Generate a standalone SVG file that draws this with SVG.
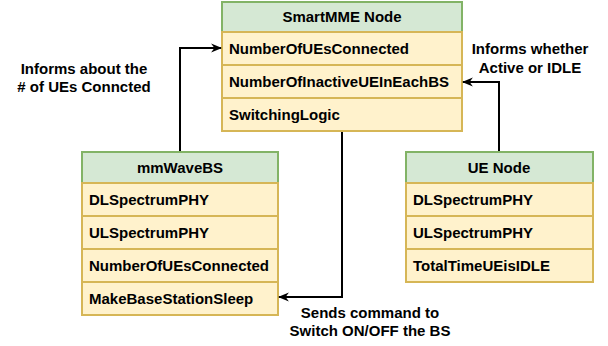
<svg xmlns="http://www.w3.org/2000/svg" width="608" height="346" viewBox="0 0 608 346">
<defs>
<style>
.hd{fill:#d5e8d4;stroke:#82b366;stroke-width:2}
.rw{fill:#fff2cc;stroke:#d6b656;stroke-width:2}
.t{font-family:"Liberation Sans",Arial,sans-serif;font-size:15px;font-weight:bold;fill:#000}
.c{text-anchor:middle}
.ln{fill:none;stroke:#000;stroke-width:2}
</style>
<marker id="ah" viewBox="0 0 10 10" refX="9" refY="5" markerWidth="11" markerHeight="11" markerUnits="userSpaceOnUse" orient="auto">
<path d="M0,1 L10,5 L0,9 L3,5 Z" fill="#000"/>
</marker>
</defs>
<rect width="608" height="346" fill="#fff"/>
<g id="smartmme">
<rect class="hd" x="222" y="2" width="240" height="30"/>
<text class="t c" x="342" y="22">SmartMME Node</text>
<rect class="rw" x="222" y="32" width="240" height="33"/>
<text class="t" x="229" y="54">NumberOfUEsConnected</text>
<rect class="rw" x="222" y="65" width="240" height="33"/>
<text class="t" x="229" y="87">NumberOfInactiveUEInEachBS</text>
<rect class="rw" x="222" y="98" width="240" height="33"/>
<text class="t" x="229" y="120">SwitchingLogic</text>
</g>
<g id="mmwavebs">
<rect class="hd" x="82" y="152" width="196" height="31"/>
<text class="t c" x="180" y="173">mmWaveBS</text>
<rect class="rw" x="82" y="183" width="196" height="33"/>
<text class="t" x="89" y="205">DLSpectrumPHY</text>
<rect class="rw" x="82" y="216" width="196" height="33"/>
<text class="t" x="89" y="238">ULSpectrumPHY</text>
<rect class="rw" x="82" y="249" width="196" height="33"/>
<text class="t" x="89" y="271">NumberOfUEsConnected</text>
<rect class="rw" x="82" y="282" width="196" height="33"/>
<text class="t" x="89" y="304">MakeBaseStationSleep</text>
</g>
<g id="uenode">
<rect class="hd" x="406" y="152" width="187" height="31"/>
<text class="t c" x="499" y="173">UE Node</text>
<rect class="rw" x="406" y="183" width="187" height="33"/>
<text class="t" x="413" y="205">DLSpectrumPHY</text>
<rect class="rw" x="406" y="216" width="187" height="33"/>
<text class="t" x="413" y="238">ULSpectrumPHY</text>
<rect class="rw" x="406" y="249" width="187" height="33"/>
<text class="t" x="413" y="271">TotalTimeUEisIDLE</text>
</g>
<g id="connectors">
<path class="ln" d="M180,151 V48 H221" marker-end="url(#ah)"/>
<path class="ln" d="M499,151 V82 H463" marker-end="url(#ah)"/>
<path class="ln" d="M342,132 V297 H279" marker-end="url(#ah)"/>
<text class="t c" x="84" y="74">Informs about the</text>
<text class="t c" x="84" y="92">#  of UEs Conncted</text>
<text class="t c" x="530" y="54">Informs whether</text>
<text class="t c" x="530" y="73">Active or IDLE</text>
<text class="t c" x="370" y="318">Sends command to</text>
<text class="t c" x="370" y="336">Switch ON/OFF the BS</text>
</g>
</svg>
